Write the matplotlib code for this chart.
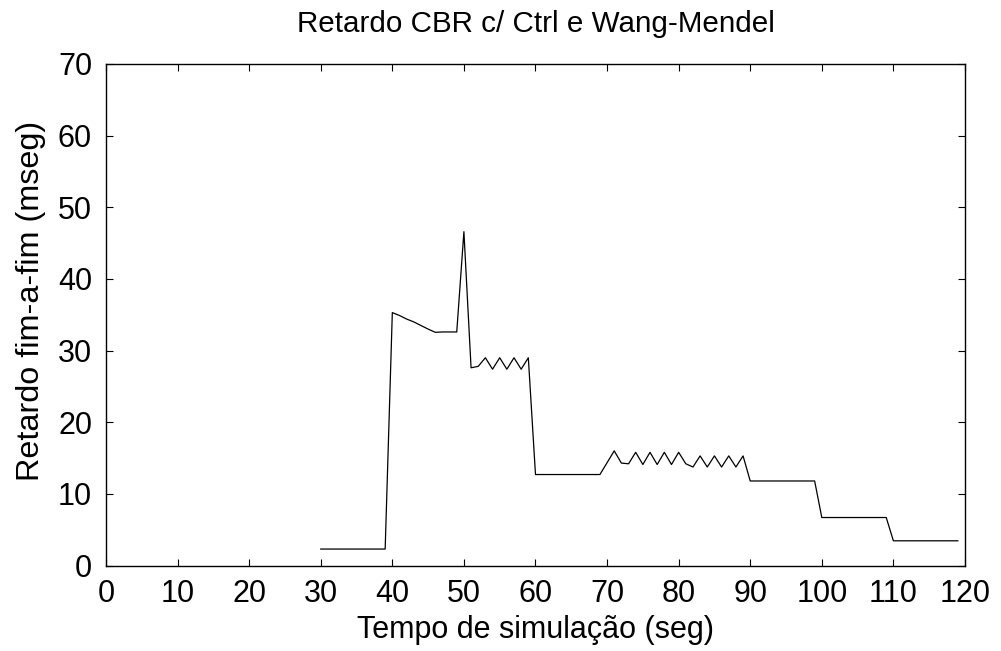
import matplotlib
matplotlib.use("Agg")
import matplotlib.pyplot as plt

plt.rcParams['font.family'] = ['Liberation Sans', 'DejaVu Sans']

# tempo de simulacao (seg) e retardo fim-a-fim (mseg)
tempo = list(range(30, 120))
retardo = (
    [2.3] * 10                                                    # 30-39
    + [35.3, 34.9, 34.4, 34.0, 33.5, 33.0, 32.55, 32.6, 32.6, 32.6]  # 40-49
    + [46.6, 27.6, 27.8, 29.0, 27.4, 29.0, 27.4, 29.0, 27.4, 29.0]   # 50-59
    + [12.7] * 10                                                 # 60-69
    + [14.35, 16.0, 14.3, 14.2, 15.8, 14.1, 15.8, 14.1, 15.8, 14.1]  # 70-79
    + [15.8, 14.2, 13.75, 15.3, 13.75, 15.3, 13.75, 15.3, 13.75, 15.3]  # 80-89
    + [11.8] * 10                                                 # 90-99
    + [6.7] * 10                                                  # 100-109
    + [3.45] * 10                                                 # 110-119
)

fig = plt.figure(figsize=(10.01, 6.51), dpi=100)
ax = fig.add_axes([0.1059, 0.1313, 0.8581, 0.7704])

ax.plot(tempo, retardo, color='black', linewidth=0.9)

ax.set_xlim(0, 120)
ax.set_ylim(0, 70)
ax.set_xticks(range(0, 121, 10))
ax.set_yticks(range(0, 71, 10))
ax.tick_params(direction='in', length=5, width=0.8, top=True, right=True,
               labelsize=22)
ax.tick_params(axis='x', pad=10)
ax.tick_params(axis='y', pad=10)
for s in ax.spines.values():
    s.set_linewidth(1.0)

ax.set_title('Retardo CBR c/ Ctrl e Wang-Mendel', fontsize=21.3, pad=23)
ax.set_xlabel('Tempo de simulação (seg)', fontsize=22, labelpad=4)
ax.set_ylabel('Retardo fim-a-fim (mseg)', fontsize=23.3, labelpad=9)
ax.yaxis.set_label_coords(-0.07, 0.527)

fig.savefig('out.png', dpi=100)
